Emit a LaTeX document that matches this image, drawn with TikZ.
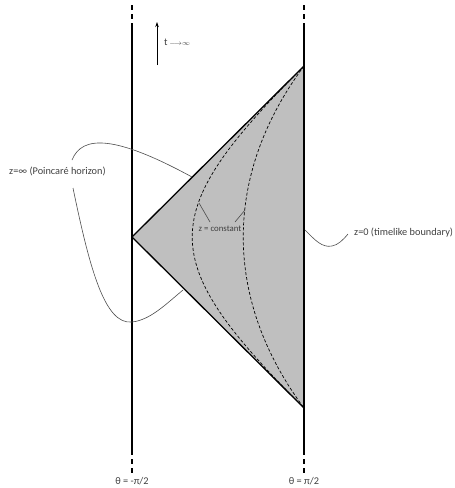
\documentclass[tikz,border=0pt]{standalone}
\usepackage{fontspec}
\setmainfont{Carlito}
\usetikzlibrary{arrows.meta}

\begin{document}
\begin{tikzpicture}[x=1pt,y=-1pt,
        bnd/.style={line width=1.3pt},
        gap/.style={line width=1.3pt,dash pattern=on 5pt off 4pt},
        lbl/.style={font=\fontsize{10.3}{12}\selectfont,text=black!75,inner sep=0pt},
        lead/.style={draw=black!70,line width=0.6pt},
        zc/.style={line width=0.7pt,dash pattern=on 3pt off 2pt}]
        \useasboundingbox (0,0) rectangle (455,488);
        \coordinate (apex) at (132,237);
        \coordinate (top) at (304,66);
        \coordinate (bot) at (304,408);
        \fill[black!25] (apex) -- (top) -- (bot) -- cycle;
        \draw[zc] (top) .. controls (155,215) and (155,259) .. (bot);
        \draw[zc] (top) .. controls (223,175) and (223,299) .. (bot);
        \draw[bnd] (top) -- (apex) -- (bot);
        \draw[bnd] (132,23) -- (132,450);
        \draw[bnd] (304,23) -- (304,450);
        \draw[gap] (132,5) -- (132,23);
        \draw[gap] (304,5) -- (304,23);
        \draw[gap] (132,450) -- (132,473);
        \draw[gap] (304,450) -- (304,473);
        \coordinate (tlow) at (157,65);
        \coordinate (thigh) at (157,22);
        \draw[-{Stealth[length=5pt,width=3.5pt]},line width=0.7pt] (tlow) -- (thigh);
        \node[lbl,anchor=west] (tinf) at (164,42) {t\,$\scriptstyle\longrightarrow\infty$};
        \node[lbl,anchor=west] (horizon) at (9,171) {z=∞ (Poincaré horizon)};
        \node[lbl,anchor=west] (bdry) at (354,233) {z=0 (timelike boundary)};
        \node[lbl,font=\fontsize{8.8}{10}\selectfont] (zconst) at (220,229) {z = constant};
        \node[lbl] (thl) at (132,481) {θ = -π/2};
        \node[lbl] (thr) at (304,481) {θ = π/2};
        \coordinate (h1) at (72,160);
        \coordinate (h2) at (73,188);
        \coordinate (hu) at (192,177);
        \coordinate (hl) at (183,290);
        \coordinate (hb) at (305,230);
        \coordinate (b1) at (348,234);
        \coordinate (z1) at (210,222);
        \coordinate (z2) at (235,222);
        \coordinate (c1) at (199,203);
        \coordinate (c2) at (245,210);
        \draw[lead] (h1) .. controls (82,135) and (115,135) .. (hu);
        \draw[lead] (h2) .. controls (90,270) and (105,325) .. (132,322)
            .. controls (150,320) and (165,305) .. (hl);
        \draw[lead] (hb) .. controls (315,240) and (322,248) .. (332,246)
            .. controls (338,245) and (343,240) .. (b1);
        \draw[lead] (z1) -- (c1);
        \draw[lead] (z2) -- (c2);
\end{tikzpicture}
\end{document}
